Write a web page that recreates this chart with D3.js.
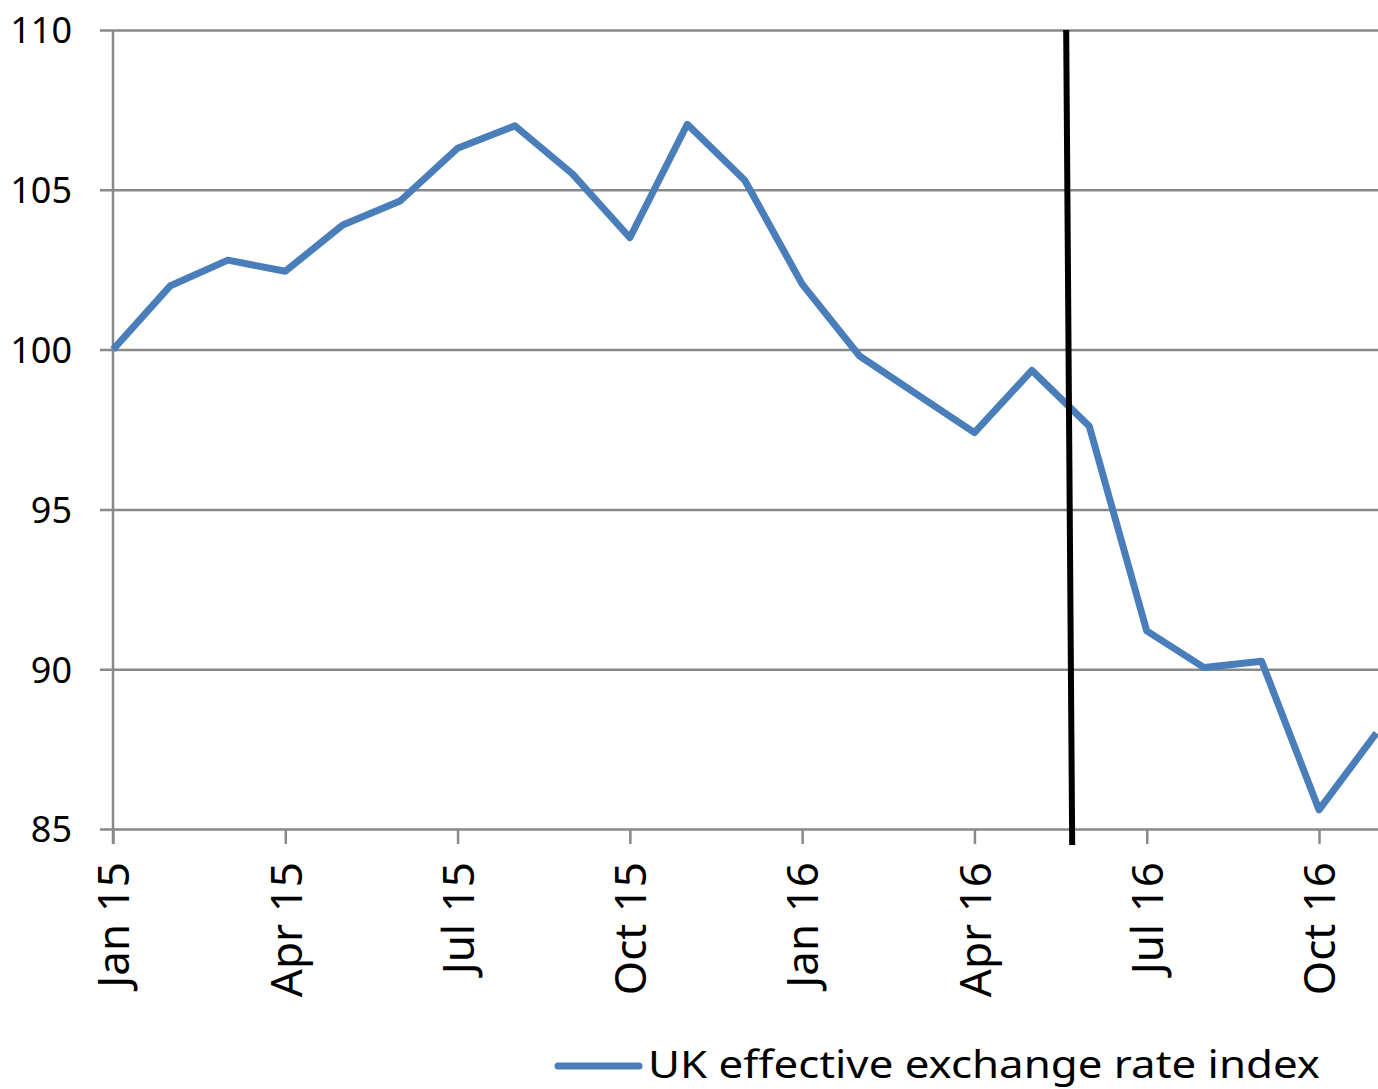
<!DOCTYPE html>
<html>
<head>
<meta charset="utf-8">
<script src="https://cdnjs.cloudflare.com/ajax/libs/d3/7.8.5/d3.min.js"></script>
<style>
  html, body { margin: 0; padding: 0; background: #fff; }
  svg { display: block; }
  text { font-family: "Noto Sans", "Open Sans", sans-serif; fill: #000; }
</style>
</head>
<body>
<svg id="chart" width="1378" height="1089"></svg>
<script>
// Monthly UK effective exchange rate index, Jan 2015 = 100
const months = ["Jan 15","Feb 15","Mar 15","Apr 15","May 15","Jun 15","Jul 15","Aug 15","Sep 15","Oct 15","Nov 15","Dec 15",
                "Jan 16","Feb 16","Mar 16","Apr 16","May 16","Jun 16","Jul 16","Aug 16","Sep 16","Oct 16","Nov 16"];
const rateIndex = [100.0, 102.0, 102.8, 102.45, 103.9, 104.65, 106.3, 107.0, 105.5, 103.5, 107.05, 105.3,
                   102.05, 99.8, 98.6, 97.4, 99.35, 97.6, 91.2, 90.05, 90.25, 85.6, 88.0];
const yTicks = [85, 90, 95, 100, 105, 110];
const xTickLabels = ["Jan 15","Apr 15","Jul 15","Oct 15","Jan 16","Apr 16","Jul 16","Oct 16"];
// EU referendum, 23 June 2016, as a fractional month position
const referendumMonth = 16.65;
const seriesName = "UK effective exchange rate index";

const svg = d3.select("#chart");
const plotLeft = 113, plotRight = 1378, plotTop = 30, plotBottom = 829;

const x = d3.scaleLinear().domain([0, 21]).range([plotLeft, 1319]);
const y = d3.scaleLinear().domain([85, 110]).range([plotBottom, plotTop]);

const gridColor = "#898989";

// Horizontal gridlines with y-axis labels
const yAxis = d3.axisLeft(y).tickValues(yTicks).tickSize(-(plotRight - plotLeft)).tickSizeOuter(0).tickPadding(41);
const gy = svg.append("g").attr("transform", `translate(${plotLeft},0)`).call(yAxis);
gy.select(".domain").remove();
gy.selectAll(".tick line").attr("x1", -13).attr("stroke", gridColor).attr("stroke-width", 2.5);
gy.selectAll(".tick text").attr("font-size", 36).attr("dy", "0.36em");

// Vertical y-axis line
svg.append("line")
  .attr("x1", plotLeft).attr("x2", plotLeft).attr("y1", plotTop).attr("y2", plotBottom + 15)
  .attr("stroke", gridColor).attr("stroke-width", 2.5);

// Quarterly x ticks and rotated labels
const quarterIdx = xTickLabels.map(l => months.indexOf(l));
const xAxis = d3.axisBottom(x).tickValues(quarterIdx).tickSize(15).tickSizeOuter(0)
  .tickFormat(d => months[d]);
const gx = svg.append("g").attr("transform", `translate(0,${plotBottom})`).call(xAxis);
gx.select(".domain").remove();
gx.selectAll(".tick line").attr("stroke", gridColor).attr("stroke-width", 2.5);
gx.selectAll(".tick text")
  .attr("font-size", 44)
  .attr("text-anchor", "end")
  .attr("transform", "rotate(-90)")
  .attr("x", -33).attr("y", 0).attr("dy", "0.36em");

// Index line
const line = d3.line().x((d, i) => x(i)).y(d => y(d));
svg.append("path")
  .datum(rateIndex)
  .attr("d", line)
  .attr("fill", "none")
  .attr("stroke", "#4a7ebb")
  .attr("stroke-width", 7)
  .attr("stroke-linejoin", "round");

// Referendum marker (slightly slanted)
svg.append("line")
  .attr("x1", x(referendumMonth) - 3).attr("y1", plotTop)
  .attr("x2", x(referendumMonth) + 3).attr("y2", plotBottom + 16)
  .attr("stroke", "#000").attr("stroke-width", 6);

// Legend
const lg = svg.append("g").attr("transform", "translate(555,1066)");
lg.append("line").attr("x1", 3).attr("x2", 84).attr("y1", 0).attr("y2", 0)
  .attr("stroke", "#4a7ebb").attr("stroke-width", 7).attr("stroke-linecap", "round");
lg.append("text").attr("x", 93).attr("y", 12).attr("font-size", 38)
  .attr("textLength", 672).attr("lengthAdjust", "spacingAndGlyphs")
  .text(seriesName);
</script>
</body>
</html>
